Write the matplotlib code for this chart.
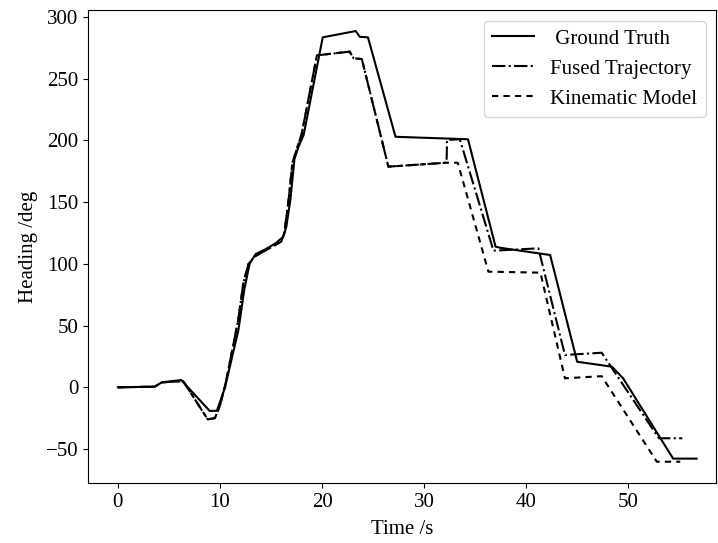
import matplotlib
matplotlib.use("Agg")
import matplotlib.pyplot as plt

plt.rcParams['font.family'] = ['Liberation Serif', 'DejaVu Serif']
plt.rcParams['axes.unicode_minus'] = True

# Ground truth
gt_t = [0.0, 3.6, 4.3, 6.2, 9.0, 9.7, 10.5, 11.2, 11.8, 12.4, 12.9, 13.5, 14.5, 15.5, 16.2,
        16.5, 16.9, 17.3, 17.7, 18.2, 20.07, 23.3, 23.7, 24.5, 27.2, 34.3, 37.0, 37.5,
        42.35, 45.0, 48.4, 49.5, 54.4, 56.7]
gt_h = [0.0, 0.5, 4.0, 5.9, -19.2, -19.0, 0.0, 25.0, 46.0, 80.0, 100.0, 108.0, 112.0, 117.0, 122.0,
        130.0, 152.0, 185.0, 195.0, 204.5, 283.6, 288.7, 284.0, 283.6, 203.0, 201.0, 114.0, 113.0,
        107.2, 20.7, 16.7, 7.3, -57.8, -57.8]

# Fused trajectory
fu_t = [0.0, 3.6, 4.3, 6.4, 8.8, 9.5, 10.0, 10.6, 11.2, 11.8, 12.3, 12.8, 13.4, 16.0, 16.3,
        16.7, 17.1, 17.6, 18.0, 19.5, 22.7, 23.1, 23.9, 26.5, 32.2, 32.25, 33.5, 36.8, 41.2,
        43.8, 47.4, 53.0, 55.3]
fu_h = [0.0, 0.5, 4.0, 5.0, -26.0, -25.0, -15.0, 5.0, 30.0, 55.0, 85.0, 100.0, 106.0, 118.0, 125.0,
        150.0, 182.0, 195.0, 205.0, 269.0, 272.0, 266.6, 266.0, 178.8, 182.0, 200.4, 201.0, 110.7, 112.6,
        26.2, 28.0, -41.3, -41.3]

# Kinematic model
km_t = [0.0, 3.6, 4.3, 6.4, 8.8, 9.5, 10.0, 10.6, 11.2, 11.8, 12.3, 12.8, 13.4, 16.0, 16.3,
        16.7, 17.1, 17.6, 18.0, 19.5, 22.7, 23.1, 23.9, 26.5, 32.2, 33.3, 36.3, 41.4,
        43.8, 47.4, 52.8, 55.1]
km_h = [0.0, 0.5, 4.0, 5.0, -26.0, -25.0, -15.0, 5.0, 30.0, 55.0, 85.0, 100.0, 106.0, 118.0, 125.0,
        150.0, 182.0, 195.0, 205.0, 269.0, 272.0, 266.6, 266.0, 178.8, 182.0, 182.0, 93.7, 92.9,
        7.3, 9.0, -60.3, -60.3]

labels = [" Ground Truth", "Fused Trajectory", "Kinematic Model"]
x_ticks = [0, 10, 20, 30, 40, 50]
y_ticks = [-50, 0, 50, 100, 150, 200, 250, 300]

fig = plt.figure(figsize=(7.18, 5.43), dpi=100)
ax = fig.add_axes([88.3 / 718, 1 - 483.3 / 543, (716 - 88.3) / 718, (483.3 - 10.3) / 543])

ax.plot(gt_t, gt_h, color='black', linestyle='-', lw=1.5, label=labels[0])
ax.plot(fu_t, fu_h, color='black', linestyle='-.', lw=1.5, label=labels[1])
ax.plot(km_t, km_h, color='black', linestyle=(0, (3.0, 2.5)), lw=1.5, label=labels[2])

ax.set_xlim(-2.9, 58.6)
ax.set_ylim(-77.8, 305.5)
ax.set_xticks(x_ticks)
ax.set_yticks(y_ticks)
ax.tick_params(labelsize=15)
ax.set_xlabel("Time /s", fontsize=15, labelpad=6)
ax.set_ylabel("Heading /deg", fontsize=15, labelpad=6)
ax.legend(loc='upper right', fontsize=15)

fig.savefig("out.png", dpi=100)
